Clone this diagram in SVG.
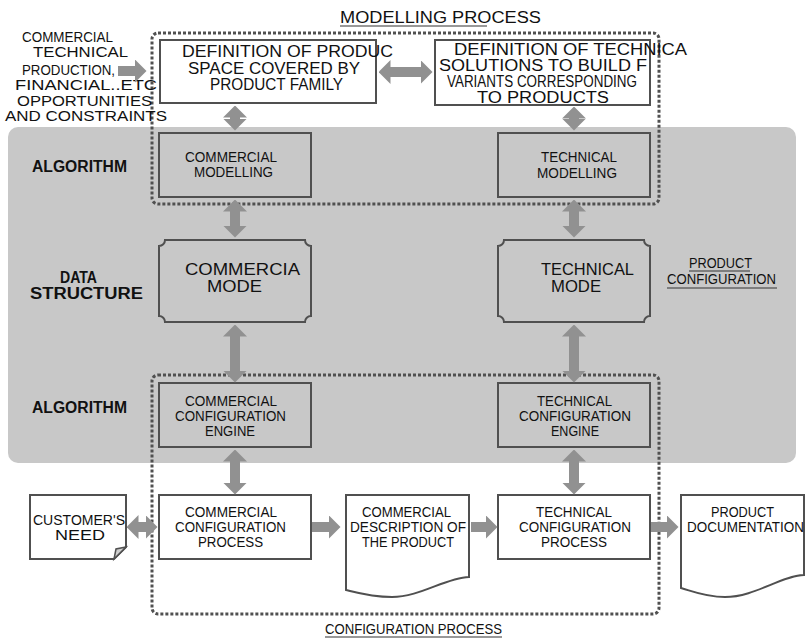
<svg xmlns="http://www.w3.org/2000/svg" width="808" height="639" viewBox="0 0 808 639">
<style>
text{font-family:"Liberation Sans",Arial,sans-serif;fill:#111;}
.t14{font-size:14px}
.t15{font-size:15px}
.t16{font-size:16px}
.bl{font-size:16px;font-weight:bold}
.box{fill:none;stroke:#505050;stroke-width:2}
.wbox{fill:#fff;stroke:#505050;stroke-width:2}
.dot{fill:none;stroke:#505050;stroke-width:3;stroke-dasharray:3 2}
.arr{stroke:#919191;stroke-width:10;fill:none}
.dbl{marker-start:url(#h);marker-end:url(#h)}
.one{marker-end:url(#h)}
.ul{stroke:#333;stroke-width:1.2}
</style>
<defs>
<marker id="h" markerUnits="userSpaceOnUse" markerWidth="12" markerHeight="24" viewBox="0 0 12 24" refX="0.5" refY="12" orient="auto-start-reverse">
<path d="M0,0 L12,12 L0,24 Z" fill="#919191"/>
</marker>
</defs>

<rect x="8" y="127" width="788" height="336" rx="10" fill="#c8c8c8"/>

<g id="modelling-process">
<rect class="dot" x="152" y="33" width="507" height="171" rx="6"/>
<text class="t16" x="340" y="23" textLength="201" lengthAdjust="spacingAndGlyphs">MODELLING PROCESS</text>
<line class="ul" x1="340" y1="26" x2="487" y2="26"/>
</g>
<g id="configuration-process">
<rect class="dot" x="152" y="375" width="507" height="239" rx="6"/>
<text class="t15" x="325" y="634" textLength="177" lengthAdjust="spacingAndGlyphs">CONFIGURATION PROCESS</text>
<line class="ul" x1="325" y1="637" x2="502" y2="637"/>
</g>

<g id="labels">
<text class="bl" x="32" y="172" textLength="95" lengthAdjust="spacingAndGlyphs">ALGORITHM</text>
<text class="bl" x="60" y="283" textLength="37" lengthAdjust="spacingAndGlyphs">DATA</text>
<text class="bl" x="30" y="299" textLength="113" lengthAdjust="spacingAndGlyphs">STRUCTURE</text>
<text class="bl" x="32" y="413" textLength="95" lengthAdjust="spacingAndGlyphs">ALGORITHM</text>
</g>
<g id="product-configuration">
<text class="t15" x="689" y="268" textLength="63" lengthAdjust="spacingAndGlyphs">PRODUCT</text>
<text class="t15" x="667" y="284" textLength="109" lengthAdjust="spacingAndGlyphs">CONFIGURATION</text>
<line class="ul" x1="689" y1="271" x2="750" y2="271"/>
<line class="ul" x1="667" y1="288" x2="777" y2="288"/>
</g>

<g id="inputs">
<text class="t14" x="22" y="42" textLength="91" lengthAdjust="spacingAndGlyphs">COMMERCIAL</text>
<text class="t14" x="33" y="57" textLength="95" lengthAdjust="spacingAndGlyphs">TECHNICAL</text>
<text class="t14" x="22" y="75" textLength="93" lengthAdjust="spacingAndGlyphs">PRODUCTION,</text>
<text class="t14" x="15" y="90" textLength="142" lengthAdjust="spacingAndGlyphs">FINANCIAL..ETC</text>
<text class="t14" x="17" y="106" textLength="135" lengthAdjust="spacingAndGlyphs">OPPORTUNITIES</text>
<text class="t14" x="5" y="121" textLength="162" lengthAdjust="spacingAndGlyphs">AND CONSTRAINTS</text>
</g>

<g id="def-product">
<rect class="wbox" x="160" y="40" width="216" height="63"/>
<text class="t16" x="182" y="57" textLength="211" lengthAdjust="spacingAndGlyphs">DEFINITION OF PRODUC</text>
<text class="t16" x="188" y="74" textLength="172" lengthAdjust="spacingAndGlyphs">SPACE COVERED BY</text>
<text class="t16" x="210" y="90" textLength="133" lengthAdjust="spacingAndGlyphs">PRODUCT FAMILY</text>
</g>
<g id="def-technical">
<rect class="wbox" x="435" y="40" width="215" height="65"/>
<text class="t16" x="454" y="55" textLength="233" lengthAdjust="spacingAndGlyphs">DEFINITION OF TECHNICA</text>
<text class="t16" x="439" y="71" textLength="208" lengthAdjust="spacingAndGlyphs">SOLUTIONS TO BUILD F</text>
<text class="t16" x="447" y="87" textLength="190" lengthAdjust="spacingAndGlyphs">VARIANTS CORRESPONDING</text>
<text class="t16" x="477" y="103" textLength="132" lengthAdjust="spacingAndGlyphs">TO PRODUCTS</text>
</g>

<g id="commercial-modelling">
<rect class="box" x="159" y="133" width="152" height="64"/>
<text class="t14" x="185" y="162" textLength="92" lengthAdjust="spacingAndGlyphs">COMMERCIAL</text>
<text class="t14" x="194" y="177" textLength="79" lengthAdjust="spacingAndGlyphs">MODELLING</text>
</g>
<g id="technical-modelling">
<rect class="box" x="498" y="133" width="152" height="64"/>
<text class="t14" x="541" y="162" textLength="76" lengthAdjust="spacingAndGlyphs">TECHNICAL</text>
<text class="t14" x="537" y="178" textLength="80" lengthAdjust="spacingAndGlyphs">MODELLING</text>
</g>

<g id="commercial-model">
<path class="box" d="M165,240 H305 A6,6 0 0 0 311,246 V316 A6,6 0 0 0 305,322 H165 A6,6 0 0 0 159,316 V246 A6,6 0 0 0 165,240 Z"/>
<text class="t16" x="185" y="275" textLength="115" lengthAdjust="spacingAndGlyphs">COMMERCIA</text>
<text class="t16" x="207" y="292" textLength="55" lengthAdjust="spacingAndGlyphs">MODE</text>
</g>
<g id="technical-model">
<path class="box" d="M504,240 H644 A6,6 0 0 0 650,246 V316 A6,6 0 0 0 644,322 H504 A6,6 0 0 0 498,316 V246 A6,6 0 0 0 504,240 Z"/>
<text class="t16" x="541" y="275" textLength="93" lengthAdjust="spacingAndGlyphs">TECHNICAL</text>
<text class="t16" x="551" y="292" textLength="50" lengthAdjust="spacingAndGlyphs">MODE</text>
</g>

<g id="commercial-engine">
<rect class="box" x="159" y="383" width="152" height="64"/>
<text class="t14" x="185" y="406" textLength="92" lengthAdjust="spacingAndGlyphs">COMMERCIAL</text>
<text class="t14" x="175" y="421" textLength="111" lengthAdjust="spacingAndGlyphs">CONFIGURATION</text>
<text class="t14" x="205" y="436" textLength="50" lengthAdjust="spacingAndGlyphs">ENGINE</text>
</g>
<g id="technical-engine">
<rect class="box" x="498" y="383" width="152" height="64"/>
<text class="t14" x="537" y="406" textLength="75" lengthAdjust="spacingAndGlyphs">TECHNICAL</text>
<text class="t14" x="519" y="421" textLength="112" lengthAdjust="spacingAndGlyphs">CONFIGURATION</text>
<text class="t14" x="551" y="436" textLength="48" lengthAdjust="spacingAndGlyphs">ENGINE</text>
</g>

<g id="customer-need">
<path class="wbox" d="M30,495 H126 V547 L114,559 H30 Z"/>
<path d="M126,547 L116,549 L114,559 Z" fill="#cfcfcf" stroke="#505050" stroke-width="1.5"/>
<text class="t14" x="33" y="525" textLength="92" lengthAdjust="spacingAndGlyphs">CUSTOMER'S</text>
<text class="t14" x="55" y="540" textLength="50" lengthAdjust="spacingAndGlyphs">NEED</text>
</g>
<g id="commercial-process">
<rect class="wbox" x="159" y="495" width="152" height="64"/>
<text class="t14" x="185" y="517" textLength="92" lengthAdjust="spacingAndGlyphs">COMMERCIAL</text>
<text class="t14" x="175" y="532" textLength="111" lengthAdjust="spacingAndGlyphs">CONFIGURATION</text>
<text class="t14" x="198" y="547" textLength="65" lengthAdjust="spacingAndGlyphs">PROCESS</text>
</g>
<g id="commercial-description">
<path class="wbox" d="M346,495 H469 V577 C445,578 420,597 392,597 C372,597 358,593 346,590 Z"/>
<text class="t14" x="362" y="517" textLength="89" lengthAdjust="spacingAndGlyphs">COMMERCIAL</text>
<text class="t14" x="350" y="532" textLength="116" lengthAdjust="spacingAndGlyphs">DESCRIPTION OF</text>
<text class="t14" x="362" y="547" textLength="92" lengthAdjust="spacingAndGlyphs">THE PRODUCT</text>
</g>
<g id="technical-process">
<rect class="wbox" x="498" y="495" width="152" height="64"/>
<text class="t14" x="536" y="517" textLength="76" lengthAdjust="spacingAndGlyphs">TECHNICAL</text>
<text class="t14" x="519" y="532" textLength="112" lengthAdjust="spacingAndGlyphs">CONFIGURATION</text>
<text class="t14" x="541" y="547" textLength="66" lengthAdjust="spacingAndGlyphs">PROCESS</text>
</g>
<g id="product-documentation">
<path class="wbox" d="M681,495 H804 V575 C780,576 755,597 725,597 C705,597 692,591 681,588 Z"/>
<text class="t14" x="711" y="517" textLength="63" lengthAdjust="spacingAndGlyphs">PRODUCT</text>
<text class="t14" x="687" y="532" textLength="117" lengthAdjust="spacingAndGlyphs">DOCUMENTATION</text>
</g>

<g id="connectors">
<line class="arr one" x1="118" y1="71" x2="135" y2="71"/>
<line class="arr dbl" x1="390" y1="72" x2="421" y2="72"/>
<line class="arr dbl" x1="235" y1="117" x2="235" y2="119"/>
<line class="arr dbl" x1="574" y1="118" x2="574" y2="119"/>
<line class="arr dbl" x1="235" y1="211" x2="235" y2="226"/>
<line class="arr dbl" x1="574" y1="211" x2="574" y2="226"/>
<line class="arr dbl" x1="235" y1="336" x2="235" y2="371"/>
<line class="arr dbl" x1="574" y1="336" x2="574" y2="371"/>
<line class="arr dbl" x1="235" y1="461" x2="235" y2="483"/>
<line class="arr dbl" x1="574" y1="461" x2="574" y2="483"/>
<line class="arr dbl" x1="138" y1="527" x2="146" y2="527"/>
<line class="arr one" x1="312" y1="527" x2="329" y2="527"/>
<line class="arr one" x1="471" y1="527" x2="486" y2="527"/>
<line class="arr one" x1="651" y1="527" x2="667" y2="527"/>
</g>
</svg>
